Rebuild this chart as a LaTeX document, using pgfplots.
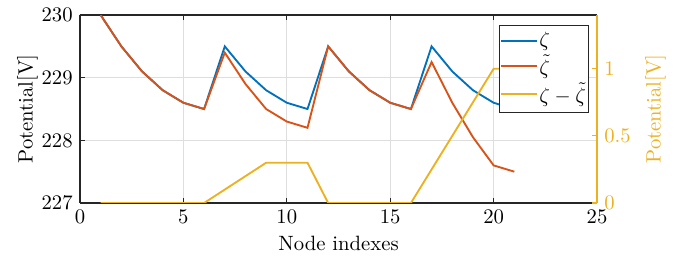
\documentclass[border=0pt]{standalone}
\usepackage{pgfplots}
\pgfplotsset{compat=1.18}
\definecolor{mblue}{rgb}{0,0.447,0.741}
\definecolor{morange}{rgb}{0.85,0.325,0.098}
\definecolor{myellow}{rgb}{0.929,0.694,0.125}
\definecolor{axgray}{rgb}{0.15,0.15,0.15}
\definecolor{gridgray}{rgb}{0.87,0.87,0.87}

\pgfplotstableread{
x blue orange diff
1 230 230 0
2 229.5 229.5 0
3 229.1 229.1 0
4 228.8 228.8 0
5 228.6 228.6 0
6 228.5 228.5 0
7 229.5 229.4 0.1
8 229.1 228.9 0.2
9 228.8 228.5 0.3
10 228.6 228.3 0.3
11 228.5 228.2 0.3
12 229.5 229.5 0
13 229.1 229.1 0
14 228.8 228.8 0
15 228.6 228.6 0
16 228.5 228.5 0
17 229.5 229.25 0.25
18 229.1 228.6 0.5
19 228.8 228.05 0.75
20 228.6 227.6 1.0
21 228.5 227.5 1.0
}\datatable

\pgfplotsset{
  common/.style={at={(0,0)}, anchor=south west,
    scale only axis, width=249.8pt, height=90.8pt, xmin=0, xmax=25},
  ablue/.style={color=mblue, line width=0.9pt},
  aorange/.style={color=morange, line width=0.9pt},
  ayellow/.style={color=myellow, line width=0.9pt},
}

\begin{document}
\begin{tikzpicture}
\path[use as bounding box] (-38.65pt,-28pt) rectangle (291.8pt,98.07pt);
\begin{axis}[common,
  ymin=227, ymax=230,
  xtick={0,5,10,15,20,25}, ytick={227,228,229,230},
  axis y line*=left, axis x line*=box,
  tick align=inside,
  grid=major, major grid style={gridgray, line width=0.5pt},
  axis line style={axgray, line width=0.6pt},
  major tick style={axgray, line width=0.6pt}, major tick length=2.5pt,
  xlabel={Node indexes}, ylabel={Potential[V]},
  ylabel shift=-5pt, xlabel shift=-1pt,
]
\addplot[ablue] table[x=x,y=blue]{\datatable};
\addplot[aorange] table[x=x,y=orange]{\datatable};
\end{axis}
\begin{axis}[common,
  ymin=0, ymax=1.4,
  ytick={0,0.5,1},
  axis y line*=right, axis x line=none,
  tick align=inside,
  y axis line style={myellow, line width=0.6pt},
  major tick style={myellow, line width=0.6pt}, major tick length=2.5pt,
  yticklabel style={myellow},
  ylabel={Potential[V]}, ylabel style={myellow},
]
\addplot[ayellow] table[x=x,y=diff]{\datatable};
\end{axis}
\begin{axis}[common,
  ymin=227, ymax=230, hide axis,
  legend style={at={(1,1)}, anchor=north east, xshift=-3.9pt, yshift=-4.8pt,
    draw=axgray, fill=white, legend cell align=left,
    inner xsep=0.5pt, inner ysep=1.5pt, row sep=-1pt,
    nodes={inner xsep=0.8pt, inner ysep=1.8pt}},
]
\addlegendimage{ablue}\addlegendentry{$\zeta$}
\addlegendimage{aorange}\addlegendentry{$\tilde\zeta$}
\addlegendimage{ayellow}\addlegendentry{$\zeta-\tilde\zeta$}
\end{axis}
\end{tikzpicture}
\end{document}
